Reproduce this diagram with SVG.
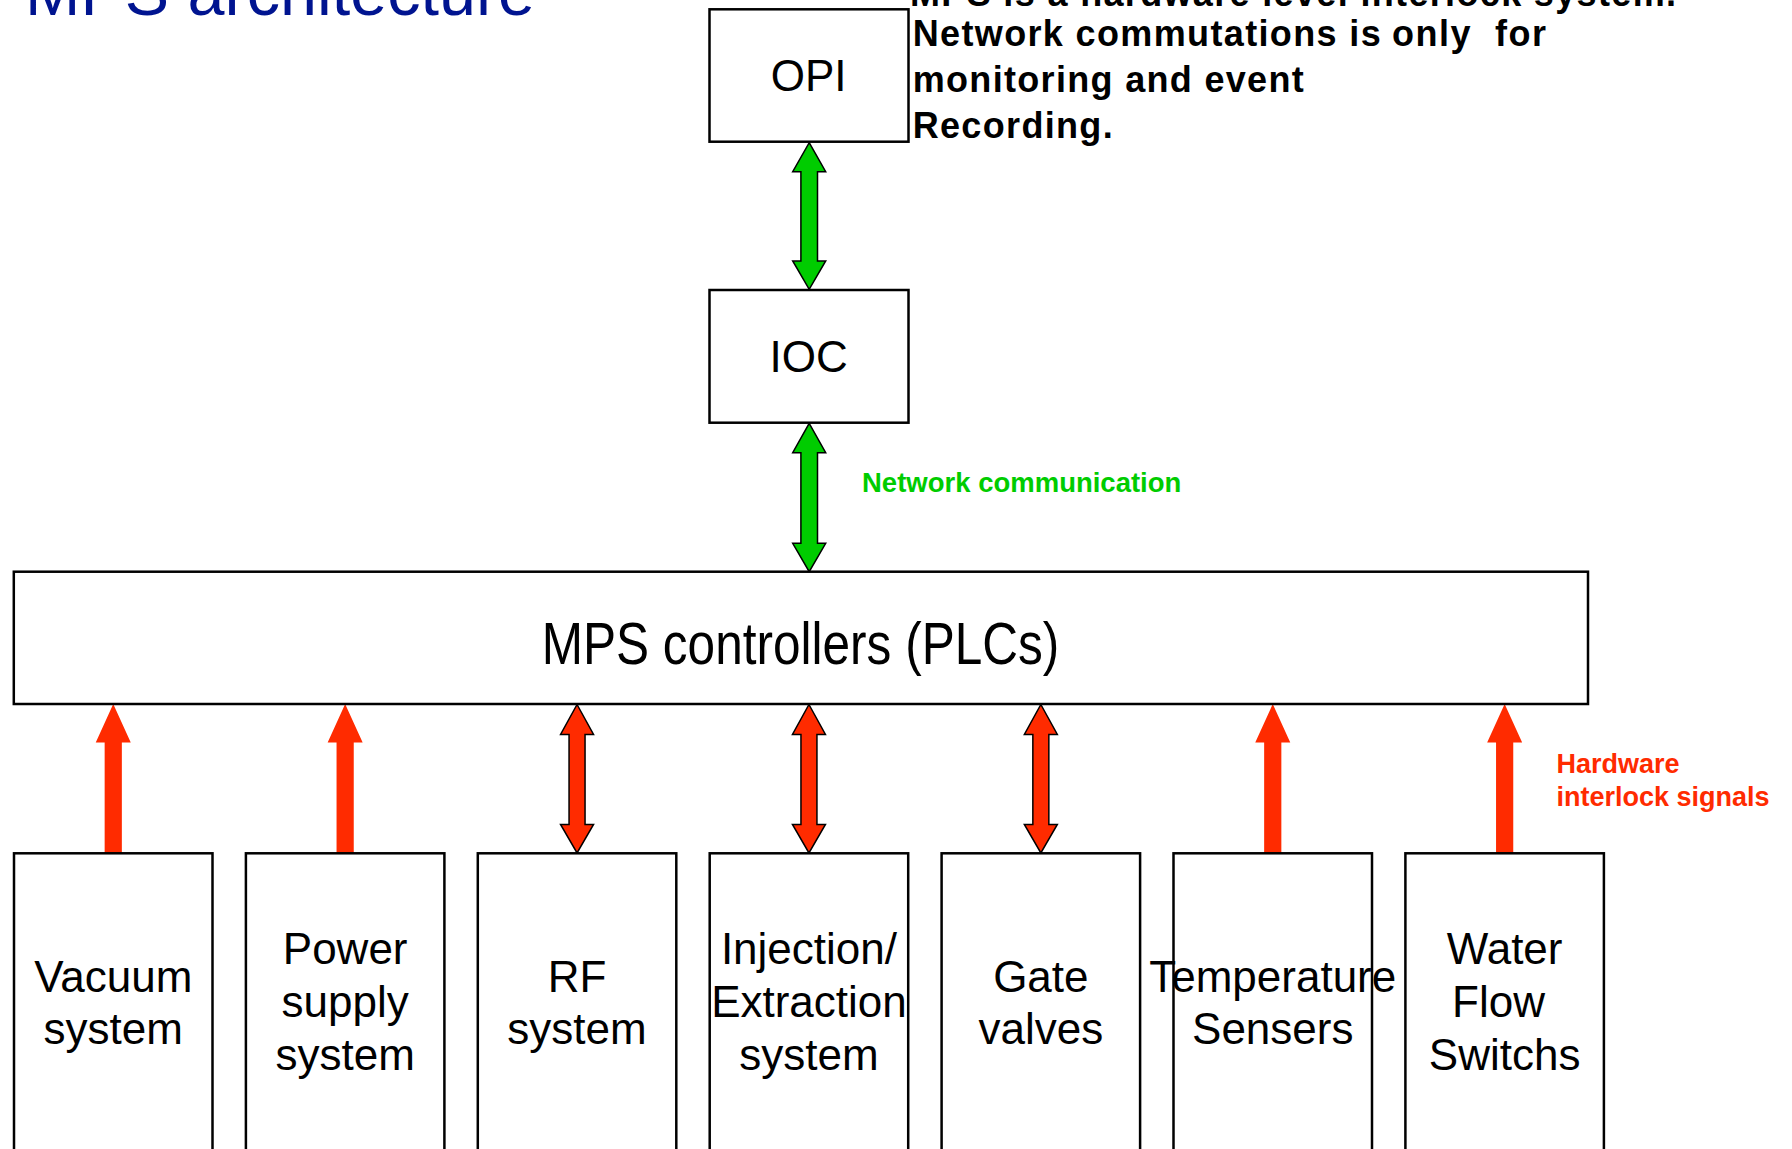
<svg xmlns="http://www.w3.org/2000/svg" width="1792" height="1149" viewBox="0 0 1792 1149">
<style>
.box{fill:#fff;stroke:#000;stroke-width:2.5}
.lbl{font-family:"Liberation Sans",Arial,sans-serif;font-size:44px;fill:#000;text-anchor:middle}
.note{font-family:"Liberation Sans",Arial,sans-serif;font-weight:bold;font-size:36px;fill:#000}
.grn{font-family:"Liberation Sans",Arial,sans-serif;font-weight:bold;font-size:27.5px;fill:#00CC00}
.red{font-family:"Liberation Sans",Arial,sans-serif;font-weight:bold;font-size:27px;fill:#FF2B00}
.g{fill:#00CC00;stroke:#000;stroke-width:1.5;stroke-linejoin:miter}
.r2{fill:#FF2B00;stroke:#000;stroke-width:1.5}
.r1{fill:#FF2B00}
</style>
<defs>
<path id="up" d="M0,0 L17.5,38.5 L8.6,38.5 L8.6,149.5 L-8.6,149.5 L-8.6,38.5 L-17.5,38.5 Z"/>
<path id="dbl" d="M0,0 L16.5,30 L8,30 L8,120 L16.5,120 L0,148.5 L-16.5,120 L-8,120 L-8,30 L-16.5,30 Z"/>
</defs>
<rect width="1792" height="1149" fill="#fff"/>
<text x="25" y="15" font-family="Liberation Sans, Arial, sans-serif" font-size="66.5" fill="#001490">MPS architecture</text>
<g id="note">
<text class="note" x="910" y="6" textLength="766" lengthAdjust="spacing">MPS is a hardware level interlock system.</text>
<text class="note" x="912.7" y="46" textLength="468" lengthAdjust="spacing">Network commutations is</text>
<text class="note" x="1392" y="46" textLength="154" lengthAdjust="spacing" xml:space="preserve">only  for</text>
<text class="note" x="912.7" y="92" textLength="391" lengthAdjust="spacing">monitoring and event</text>
<text class="note" x="912.7" y="138.3" textLength="200" lengthAdjust="spacing">Recording.</text>
</g>
<g id="connectors">
<path class="g" d="M809.2,142.7 L825.7,171.7 L817.5,171.7 L817.5,261 L825.7,261 L809.2,289.3 L792.7,261 L800.9,261 L800.9,171.7 L792.7,171.7 Z"/>
<path class="g" d="M809.2,423.3 L825.7,452.7 L817.5,452.7 L817.5,543.3 L825.7,543.3 L809.2,571.7 L792.7,543.3 L800.9,543.3 L800.9,452.7 L792.7,452.7 Z"/>
<use href="#up" class="r1" x="113.25" y="704"/>
<use href="#up" class="r1" x="345.15" y="704"/>
<use href="#dbl" class="r2" x="577.05" y="704.5"/>
<use href="#dbl" class="r2" x="808.95" y="704.5"/>
<use href="#dbl" class="r2" x="1040.85" y="704.5"/>
<use href="#up" class="r1" x="1272.75" y="704"/>
<use href="#up" class="r1" x="1504.65" y="704"/>
<text class="grn" x="862" y="492.3">Network communication</text>
<text class="red" x="1556.5" y="773.3">Hardware</text>
<text class="red" x="1556.5" y="805.7">interlock signals</text>
</g>
<g id="opi"><rect class="box" x="709.5" y="9.3" width="199" height="132.4"/><text class="lbl" x="808.7" y="90.5">OPI</text></g>
<g id="ioc"><rect class="box" x="709.5" y="290" width="199" height="132.7"/><text class="lbl" x="808.7" y="371.7">IOC</text></g>
<g id="mps"><rect class="box" x="13.8" y="571.7" width="1574.2" height="132.3"/><text transform="translate(800.5 664) scale(0.84 1)" font-family="Liberation Sans, Arial, sans-serif" font-size="59" text-anchor="middle">MPS controllers (PLCs)</text></g>
<g id="vacuum"><rect class="box" x="14" y="853.3" width="198.5" height="310"/><text class="lbl" x="113.25" y="991.7">Vacuum</text><text class="lbl" x="113.25" y="1044">system</text></g>
<g id="power"><rect class="box" x="245.9" y="853.3" width="198.5" height="310"/><text class="lbl" x="345.15" y="964">Power</text><text class="lbl" x="345.15" y="1017">supply</text><text class="lbl" x="345.15" y="1070">system</text></g>
<g id="rf"><rect class="box" x="477.8" y="853.3" width="198.5" height="310"/><text class="lbl" x="577.05" y="991.7">RF</text><text class="lbl" x="577.05" y="1044">system</text></g>
<g id="injection"><rect class="box" x="709.7" y="853.3" width="198.5" height="310"/><text class="lbl" x="808.95" y="964">Injection/</text><text class="lbl" x="808.95" y="1017">Extraction</text><text class="lbl" x="808.95" y="1070">system</text></g>
<g id="gate"><rect class="box" x="941.6" y="853.3" width="198.5" height="310"/><text class="lbl" x="1040.85" y="991.7">Gate</text><text class="lbl" x="1040.85" y="1044">valves</text></g>
<g id="temperature"><rect class="box" x="1173.5" y="853.3" width="198.5" height="310"/><text class="lbl" x="1272.75" y="991.7">Temperature</text><text class="lbl" x="1272.75" y="1044">Sensers</text></g>
<g id="water"><rect class="box" x="1405.4" y="853.3" width="198.5" height="310"/><text class="lbl" x="1504.65" y="964">Water</text><text class="lbl" x="1498.5" y="1017">Flow</text><text class="lbl" x="1504.65" y="1070">Switchs</text></g>
</svg>
